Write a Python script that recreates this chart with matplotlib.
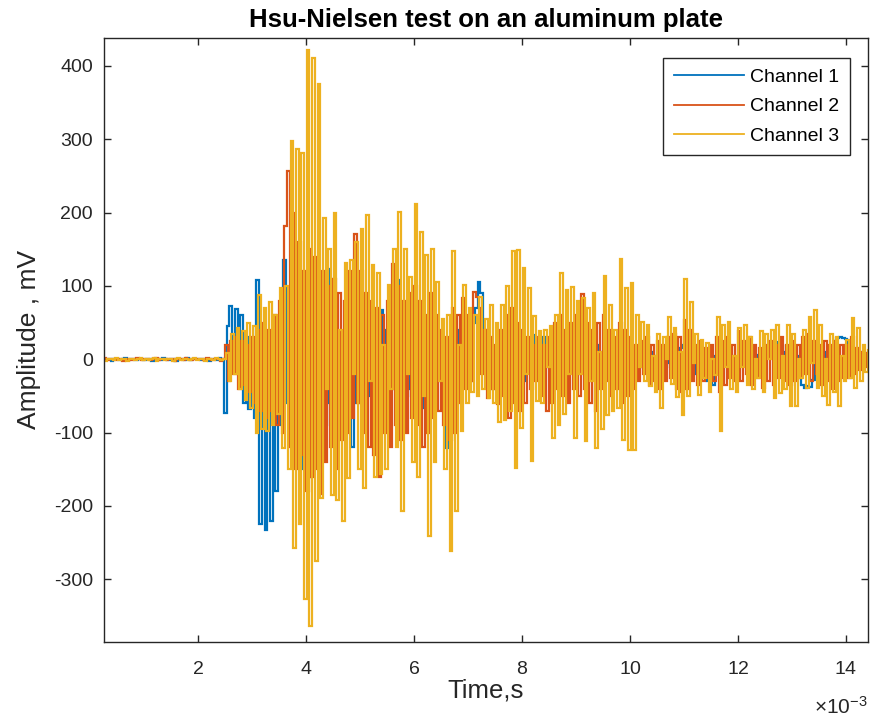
"""Hsu-Nielsen pencil-lead break test: three AE channels on an aluminium plate."""

import matplotlib

matplotlib.use("Agg")
import matplotlib.pyplot as plt
import numpy as np
from matplotlib.ticker import ScalarFormatter

# sampling grid of the traces (ms), one value every 0.05 ms from t = 0
DT_MS = 0.05
START_MS = {"ch1": 0.0, "ch2": 0.017, "ch3": 0.033}

# amplitude in mV, one row = 1 ms of samples
CH1 = [
    0, -1, 1, 0, 2, -1, 0, 1, -2, 0, 1, -1, 0, 2, -1, 1, 0, -1, 1, 0,
    -1, 0, 1, -2, 1, 0, -1, 2, 0, -1, 1, 0, -2, 1, 0, -1, 2, -1, 0, 1,
    0, -1, 1, 0, -2, 1, 0, -1, 2, 0, -73, 45, 72, 20, 68, -20, 60, -60, 30, -68,
    20, -80, 108, -225, -40, -233, -60, -220, -50, -180, 40, -90, 135, -60, 80, -100, 60, -120, 90, -150,
    87, -160, 60, -120, 50, -100, 70, -90, 123, -60, 110, -80, 24, -40, 30, -85, 20, -120, 40, -60,
    50, -70, 30, -50, 40, -40, 65, -30, 67, -50, 40, -60, 60, -40, 108, -30, 40, -50, 20, -40,
    30, -22, 10, -67, 20, -40, 10, -50, 30, -30, 20, -60, -121, -40, 30, -50, 40, -30, 20, -20,
    10, -30, 50, 70, 106, 90, 40, -20, 10, -40, 0, -30, 20, -40, -10, -50, 10, -30, 20, -20,
    10, -30, 20, -10, 33, 0, 10, -20, 30, -10, 0, -30, 20, -10, 10, -30, 0, -20, 20, -10,
    10, -20, 30, 0, 20, -30, 10, -10, 20, -20, 10, 0, -20, 10, -30, 20, -10, 10, -20, 0,
    10, -20, 0, 15, -10, 20, 0, -15, 10, -25, 5, -20, 10, -10, 20, -5, 10, -20, 5, 15,
    20, 0, 10, -15, 5, -20, 10, -25, 0, -30, -10, -35, 5, -15, 10, -5, 15, 0, 5, -10,
    0, 10, -5, 5, -10, 0, -12, 6, -8, 10, 0, 5, 15, 22, 24, 22, 18, 10, 0, -5,
    0, -10, 5, -21, -35, -39, -36, -38, -28, -5, 5, -10, 0, 10, 5, 15, 25, 29, 30, 29,
    28, 20, 10, 5, 0, 5, 10, 8, 5, 3,
]

CH2 = [
    1, 0, -1, 1, 0, 2, -1, 0, 1, -1, 0, 1, -2, 0, 1, -1, 0, 2, 0, -1,
    0, 1, -1, 0, 2, -1, 1, 0, -1, 1, 0, -2, 1, 0, -1, 2, 0, -1, 1, 0,
    1, 0, -1, 2, 0, -1, 1, 0, -2, 1, 20, -30, 25, -20, 30, -40, 25, -35, 20, -45,
    30, -60, 40, -70, 50, -80, 40, -70, 60, -90, 80, -100, 181, 256, -120, 200, -150, 160, -130, 120,
    -180, 150, -160, 140, -150, -183, 120, -140, 100, -120, 110, -150, 90, -110, 80, -100, 120, -80, 171, -60,
    120, -100, 90, -120, 80, -130, 70, -160, 60, -100, 80, -120, 130, -90, 100, -110, 80, -100, 90, -80,
    100, -90, 80, -120, 60, -100, 90, -80, 60, -70, 40, -90, 30, -110, 70, -100, 60, -60, 83, -40,
    60, -30, 92, 85, 70, -20, 40, -53, 30, -40, 20, -61, 40, -50, 60, -80, 70, -60, 50, -70,
    40, -60, 30, -40, 20, -30, 30, -50, 20, -70, 30, -60, 50, -40, 60, -50, 40, -60, 50, -40,
    60, -50, 89, -40, 50, -60, 40, -70, 50, -40, 60, -30, 40, -50, 30, -40, 50, -60, 40, -50,
    30, -40, 20, -30, 25, -20, 30, -35, 20, -30, 25, -40, 20, -30, 30, -25, 35, -40, 30, -45,
    54, -40, 40, -30, 20, -35, 25, -30, 15, -25, 20, -30, 30, -45, 25, -35, 30, -25, 20, -30,
    38, -30, 25, -20, 30, -35, 20, -25, 15, -39, 20, -30, 25, -35, 20, -25, 30, -30, 20, -35,
    25, -30, 20, -25, 30, -20, 35, -30, 25, -20, 20, -35, 25, -30, 20, -40, 25, -30, 20, -25,
    20, -25, 30, -20, 15, -15, 10, -10, 8, -5,
]

CH3 = [
    0, 1, -1, 2, 0, -2, 1, 0, -1, 2, -1, 0, 1, -2, 1, 0, -1, 1, 2, -1,
    1, -1, 0, 2, -2, 1, 0, -1, 1, 0, -2, 1, 2, -1, 0, 1, -1, 0, 2, -1,
    0, 1, -2, 1, 0, -1, 2, 0, -1, 1, 8, -30, 35, -20, 42, -40, 38, -55, 50, -67,
    45, -100, 88, -95, 70, -98, 78, -90, 60, -75, 97, -121, 100, -150, 297, -257, 286, -225, 281, -327,
    422, -364, 411, -275, 375, -189, 192, -40, 150, -185, 200, -192, 40, -221, 131, -162, 135, -20, 160, -150,
    178, -176, 196, -30, 128, -160, 117, -157, 20, -150, 101, -40, 150, -120, 201, -207, 151, -20, 112, -140,
    212, -160, 174, -50, 142, -241, 151, -140, 105, -30, 55, -150, 61, -262, 147, -207, 20, -98, 101, -60,
    70, -44, 60, -50, 85, -40, 55, -53, 74, -60, 50, -85, 74, -83, 100, -70, 147, -148, 149, -94,
    124, -20, 97, -138, 59, -57, 39, -60, 40, -10, 45, -107, 60, -89, 117, -75, 94, -20, 99, -107,
    79, -20, 83, -112, 70, -30, 91, -121, 10, -95, 114, -76, 74, -70, 40, -67, 137, -110, 97, -123,
    104, -123, 60, -10, 51, -29, 47, -37, 5, -45, 35, -67, 31, 0, 57, -34, 42, -51, 10, -76,
    110, -50, 78, -5, 35, -49, 26, -26, 22, -44, 0, -21, 58, -98, 47, -10, 51, -40, 5, -45,
    42, -10, 47, -35, 30, -40, 0, -26, 38, -44, 35, 0, 40, -53, 47, -46, 5, -40, 47, -64,
    35, -64, 0, -26, 40, -39, 58, -5, 67, -39, 47, -50, 0, -62, 35, -45, 31, -64, 5, -30,
    26, -26, 56, -39, 42, -30, 20, -17, 13, -8,
]

LABELS = ["Channel 1", "Channel 2", "Channel 3"]
COLORS = ["#0072BD", "#D95319", "#EDB120"]

X_LIMITS_S = (0.25e-3, 14.41e-3)
Y_LIMITS_MV = (-385, 438)
X_TICKS_S = [0.002, 0.004, 0.006, 0.008, 0.010, 0.012, 0.014]
Y_TICKS_MV = [-300, -200, -100, 0, 100, 200, 300, 400]

AXIS_COLOR = "#262626"


def time_axis(start_ms, n):
    """Sample times in seconds for a trace of n samples."""
    return (start_ms + DT_MS * np.arange(n)) * 1e-3


def main():
    plt.rcParams["font.family"] = ["Liberation Sans", "DejaVu Sans"]
    plt.rcParams["mathtext.fontset"] = "custom"
    plt.rcParams["mathtext.rm"] = "Liberation Sans"
    plt.rcParams["axes.unicode_minus"] = False

    fig = plt.figure(figsize=(8.71, 7.19), dpi=100)
    ax = fig.add_axes([0.1194, 0.1075, 0.8772, 0.8397])

    for key, values, label, color in zip(
        ["ch1", "ch2", "ch3"], [CH1, CH2, CH3], LABELS, COLORS
    ):
        t = time_axis(START_MS[key], len(values))
        ax.plot(t, values, color=color, linewidth=1.6, label=label,
                drawstyle="steps-mid", solid_joinstyle="miter")

    ax.set_xlim(*X_LIMITS_S)
    ax.set_ylim(*Y_LIMITS_MV)
    ax.set_xticks(X_TICKS_S)
    ax.set_yticks(Y_TICKS_MV)

    fmt = ScalarFormatter(useMathText=True)
    fmt.set_powerlimits((-3, -3))
    ax.xaxis.set_major_formatter(fmt)
    ax.xaxis.OFFSETTEXTPAD = 13
    ax.xaxis.get_offset_text().set_fontsize(15)
    ax.xaxis.get_offset_text().set_color(AXIS_COLOR)

    ax.tick_params(
        direction="in", top=True, right=True, length=5, width=1.0,
        labelsize=14, colors=AXIS_COLOR, pad=8,
    )
    ax.tick_params(axis="x", pad=14)
    for spine in ax.spines.values():
        spine.set_color(AXIS_COLOR)
        spine.set_linewidth(1.0)

    ax.set_xlabel("Time,s", fontsize=18.5, color=AXIS_COLOR, labelpad=0)
    ax.set_ylabel("Amplitude , mV", fontsize=19, color=AXIS_COLOR, labelpad=9)
    ax.set_title("Hsu-Nielsen test on an aluminum plate", fontsize=18.5,
                 fontweight="bold", pad=8)

    leg = ax.legend(
        loc="upper right", bbox_to_anchor=(0.976, 0.967), borderaxespad=0,
        fontsize=14, fancybox=False, framealpha=1, edgecolor=AXIS_COLOR,
        handlelength=3.6, handletextpad=0.3, labelspacing=0.6, borderpad=0.55,
    )
    leg.get_frame().set_linewidth(1.0)
    for line in leg.get_lines():
        line.set_linewidth(1.3)

    fig.savefig("out.png", dpi=100)


if __name__ == "__main__":
    main()
